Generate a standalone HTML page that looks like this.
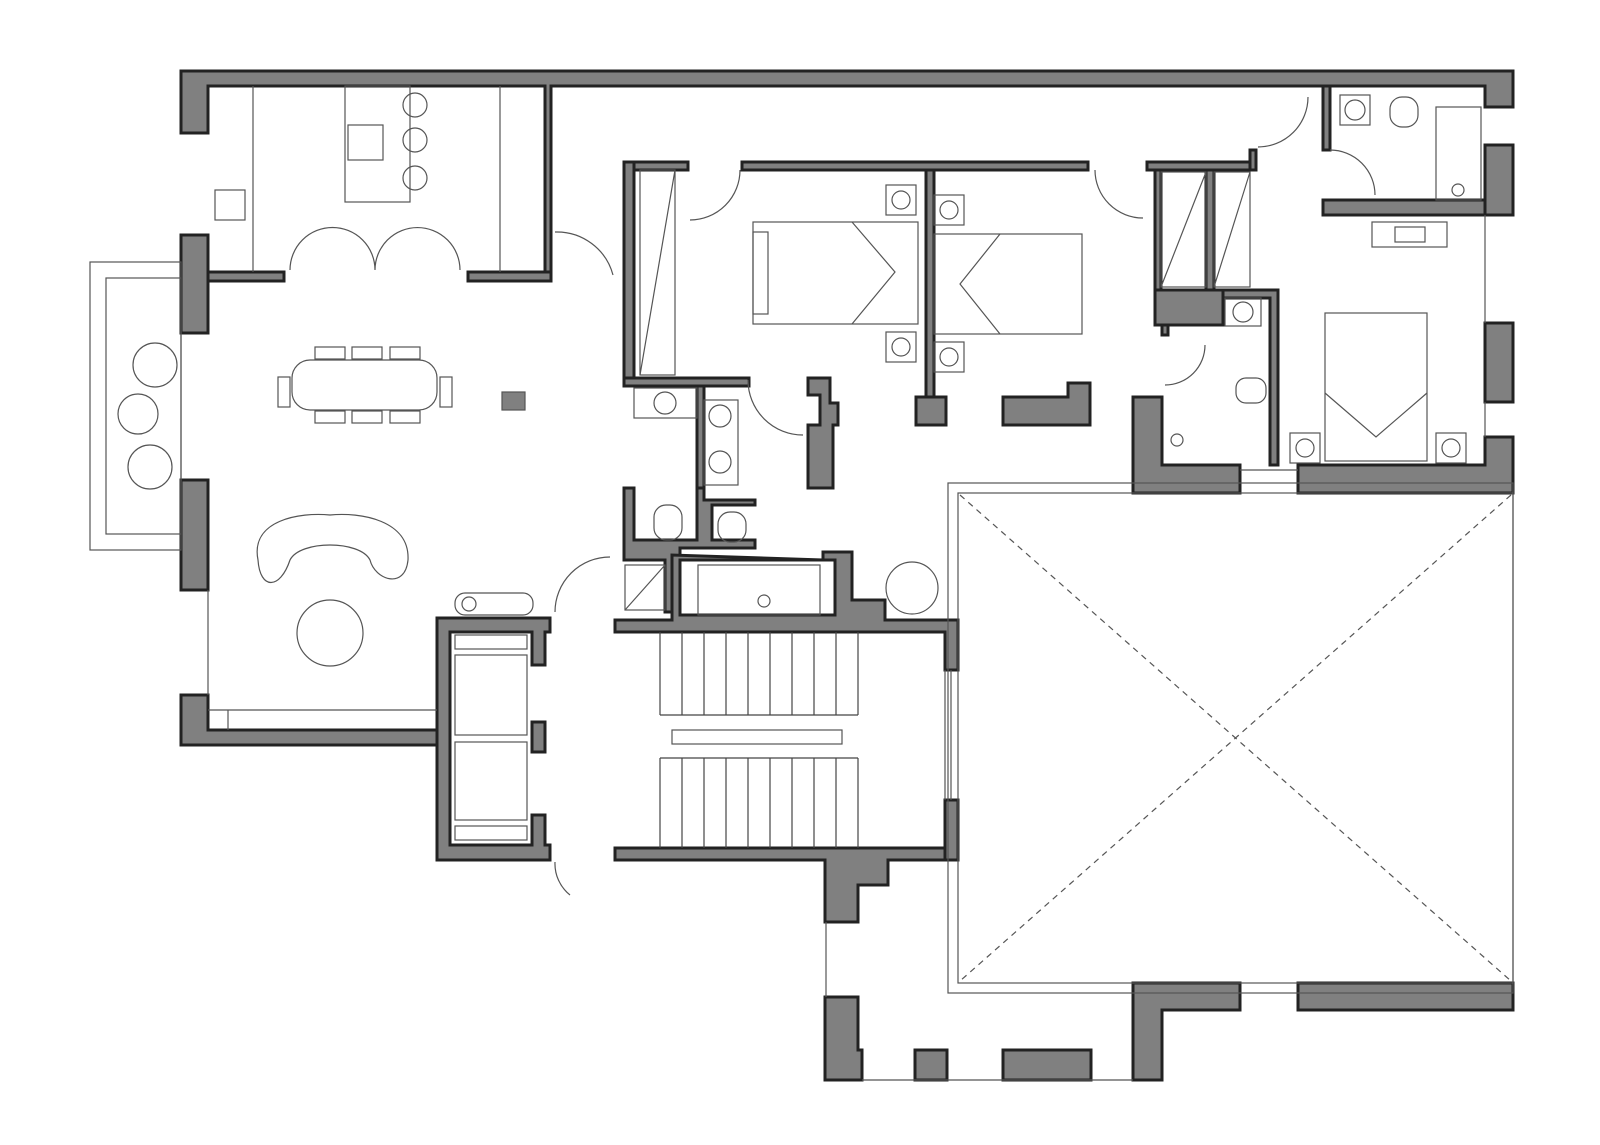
<!DOCTYPE html>
<html><head><meta charset="utf-8"><style>html,body{margin:0;padding:0;background:#fff}svg{display:block}</style></head>
<body>
<svg width="1600" height="1145" viewBox="0 0 1600 1145" xmlns="http://www.w3.org/2000/svg">
<g fill="#808080" stroke="#222" stroke-width="3" stroke-linejoin="miter">
<polygon points="181,71 1513,71 1513,107 1485,107 1485,86 551,86 551,275 545,275 545,86 208,86 208,133 181,133"/>
<rect x="181" y="235" width="27" height="98"/>
<rect x="181" y="480" width="27" height="110"/>
<polygon points="181,695 208,695 208,730 437,730 437,745 181,745"/>
<rect x="208" y="272" width="76" height="9"/>
<rect x="468" y="272" width="83" height="9"/>
<rect x="1485" y="145" width="28" height="70"/>
<rect x="1485" y="323" width="28" height="79"/>
<polygon points="1485,437 1513,437 1513,493 1298,493 1298,465 1485,465"/>
<polygon points="1133,397 1162,397 1162,465 1240,465 1240,493 1133,493"/>
<rect x="742" y="162" width="346" height="8"/>
<rect x="1147" y="162" width="108" height="8"/>
<rect x="624" y="162" width="64" height="8"/>
<rect x="624" y="162" width="10" height="220"/>
<rect x="1250" y="150" width="6" height="20"/>
<rect x="926" y="170" width="8" height="230"/>
<rect x="916" y="397" width="30" height="28"/>
<polygon points="1003,397 1068,397 1068,383 1090,383 1090,425 1003,425"/>
<rect x="624" y="378" width="125" height="8"/>
<rect x="697" y="386" width="7" height="110"/>
<polygon points="808,378 830,378 830,403 838,403 838,425 833,425 833,488 808,488 808,425 820,425 820,395 808,395"/>
<polygon points="624,488 634,488 634,540 697,540 697,488 704,488 704,500 755,500 755,505 712,505 712,540 755,540 755,548 680,548 680,560 672,560 672,612 665,612 665,560 624,560"/>
<polygon points="672,555 672,620 615,620 615,632 945,632 945,670 958,670 958,620 885,620 885,600 852,600 852,552 823,552 823,560 835,560 835,615 680,615 680,560 823,560"/>
<rect x="1155" y="290" width="68" height="35"/>
<polygon points="1223,290 1278,290 1278,465 1270,465 1270,298 1223,298"/>
<rect x="1162" y="325" width="6" height="10"/>
<rect x="1206" y="170" width="8" height="120"/>
<rect x="1155" y="170" width="6" height="120"/>
<polygon points="1323,86 1330,86 1330,150 1323,150"/>
<polygon points="1323,200 1485,200 1485,215 1323,215"/>
<polygon points="437,618 550,618 550,632 545,632 545,665 532,665 532,632 450,632 450,845 532,845 532,815 545,815 545,845 550,845 550,860 437,860"/>
<rect x="532" y="722" width="13" height="30"/>
<polygon points="615,848 958,848 958,800 945,800 945,860 888,860 888,885 858,885 858,922 825,922 825,860 615,860"/>
<rect x="945" y="800" width="13" height="60"/>
<polygon points="1133,983 1240,983 1240,1010 1162,1010 1162,1080 1133,1080"/>
<rect x="1298" y="983" width="215" height="27"/>
<polygon points="825,997 858,997 858,1050 862,1050 862,1080 825,1080"/>
<rect x="915" y="1050" width="32" height="30"/>
<rect x="1003" y="1050" width="88" height="30"/>
</g>
<g fill="none" stroke="#555" stroke-width="1.2">
<rect x="90" y="262" width="91" height="288"/>
<rect x="106" y="278" width="75" height="256"/>
<rect x="948" y="483" width="565" height="510"/>
<rect x="958" y="493" width="555" height="490"/>
<line x1="960" y1="495" x2="1511" y2="981" stroke-dasharray="6,5"/>
<line x1="1511" y1="495" x2="960" y2="981" stroke-dasharray="6,5"/>
<line x1="862" y1="1080" x2="1133" y2="1080"/>
<line x1="826" y1="922" x2="826" y2="997"/>
<line x1="208" y1="590" x2="208" y2="695"/>
<line x1="208" y1="710" x2="437" y2="710"/>
<line x1="228" y1="710" x2="228" y2="730"/>
<line x1="253" y1="86" x2="253" y2="272"/>
<line x1="500" y1="86" x2="500" y2="272"/>
<rect x="345" y="86" width="65" height="116"/>
<rect x="215" y="190" width="30" height="30"/>
<rect x="348" y="125" width="35" height="35"/>
<circle cx="415" cy="105" r="12"/><circle cx="415" cy="140" r="12"/><circle cx="415" cy="178" r="12"/>
<path d="M290,270 A42,42 0 0 1 375,270 A42,42 0 0 1 460,270"/>
<rect x="292" y="360" width="145" height="50" rx="18"/>
<rect x="315" y="347" width="30" height="12"/><rect x="352" y="347" width="30" height="12"/><rect x="390" y="347" width="30" height="12"/>
<rect x="315" y="411" width="30" height="12"/><rect x="352" y="411" width="30" height="12"/><rect x="390" y="411" width="30" height="12"/>
<rect x="278" y="377" width="12" height="30"/><rect x="440" y="377" width="12" height="30"/>
<rect x="502" y="392" width="23" height="18" fill="#808080"/>
<path d="M258,560 C250,520 300,512 330,515 C360,512 410,520 408,560 C405,590 375,580 370,560 C360,540 300,540 290,560 C280,590 260,590 258,560Z"/>
<circle cx="330" cy="633" r="33"/>
<circle cx="138" cy="414" r="20"/>
<circle cx="155" cy="365" r="22"/><circle cx="150" cy="467" r="22"/>
<rect x="455" y="593" width="78" height="22" rx="10"/>
<circle cx="469" cy="604" r="7"/>
<rect x="455" y="635" width="72" height="14"/><rect x="455" y="655" width="72" height="80"/>
<rect x="455" y="742" width="72" height="78"/><rect x="455" y="826" width="72" height="14"/>
<rect x="672" y="730" width="170" height="14"/>
<g stroke="#444">
<line x1="660" y1="632" x2="660" y2="715"/><line x1="682" y1="632" x2="682" y2="715"/><line x1="704" y1="632" x2="704" y2="715"/><line x1="726" y1="632" x2="726" y2="715"/><line x1="748" y1="632" x2="748" y2="715"/><line x1="770" y1="632" x2="770" y2="715"/><line x1="792" y1="632" x2="792" y2="715"/><line x1="814" y1="632" x2="814" y2="715"/><line x1="836" y1="632" x2="836" y2="715"/><line x1="858" y1="632" x2="858" y2="715"/>
<line x1="660" y1="715" x2="858" y2="715"/><line x1="660" y1="758" x2="858" y2="758"/>
<line x1="660" y1="758" x2="660" y2="848"/><line x1="682" y1="758" x2="682" y2="848"/><line x1="704" y1="758" x2="704" y2="848"/><line x1="726" y1="758" x2="726" y2="848"/><line x1="748" y1="758" x2="748" y2="848"/><line x1="770" y1="758" x2="770" y2="848"/><line x1="792" y1="758" x2="792" y2="848"/><line x1="814" y1="758" x2="814" y2="848"/><line x1="836" y1="758" x2="836" y2="848"/><line x1="858" y1="758" x2="858" y2="848"/>
</g>
<line x1="945" y1="670" x2="945" y2="800"/><line x1="951" y1="670" x2="951" y2="800"/>
<circle cx="912" cy="588" r="26"/>
<rect x="698" y="565" width="122" height="50"/>
<circle cx="764" cy="601" r="6"/>
<rect x="654" y="505" width="28" height="35" rx="12"/>
<rect x="718" y="512" width="28" height="30" rx="12"/>
<rect x="634" y="388" width="63" height="30"/><circle cx="665" cy="403" r="11"/>
<rect x="704" y="400" width="34" height="85"/><circle cx="720" cy="416" r="11"/><circle cx="720" cy="462" r="11"/>
<rect x="625" y="565" width="40" height="45"/><line x1="625" y1="610" x2="665" y2="565"/>
<rect x="753" y="222" width="165" height="102"/>
<rect x="753" y="232" width="15" height="82"/>
<polyline points="852,222 895,272 852,324"/>
<rect x="886" y="185" width="30" height="30"/><circle cx="901" cy="200" r="9"/>
<rect x="886" y="332" width="30" height="30"/><circle cx="901" cy="347" r="9"/>
<rect x="934" y="195" width="30" height="30"/><circle cx="949" cy="210" r="9"/>
<rect x="934" y="342" width="30" height="30"/><circle cx="949" cy="357" r="9"/>
<rect x="934" y="234" width="148" height="100"/>
<polyline points="1000,234 960,284 1000,334"/>
<rect x="640" y="170" width="35" height="205"/><line x1="640" y1="375" x2="675" y2="170"/>
<rect x="1161" y="172" width="45" height="115"/><line x1="1161" y1="287" x2="1206" y2="172"/>
<rect x="1214" y="172" width="36" height="115"/><line x1="1214" y1="287" x2="1250" y2="172"/>
<circle cx="1355" cy="110" r="10"/><rect x="1340" y="95" width="30" height="30"/>
<rect x="1390" y="97" width="28" height="30" rx="12"/>
<rect x="1436" y="107" width="45" height="93"/><circle cx="1458" cy="190" r="6"/>
<rect x="1225" y="298" width="36" height="28"/><circle cx="1243" cy="312" r="10"/>
<rect x="1236" y="378" width="30" height="25" rx="10"/>
<circle cx="1177" cy="440" r="6"/>
<rect x="1325" y="313" width="102" height="148"/>
<polyline points="1325,393 1376,437 1427,393"/>
<rect x="1290" y="433" width="30" height="30"/><circle cx="1305" cy="448" r="9"/>
<rect x="1436" y="433" width="30" height="30"/><circle cx="1451" cy="448" r="9"/>
<rect x="1372" y="222" width="75" height="25"/><rect x="1395" y="227" width="30" height="15"/>
<line x1="1485" y1="215" x2="1485" y2="323"/><line x1="1485" y1="402" x2="1485" y2="437"/>
<line x1="1240" y1="470" x2="1298" y2="470"/>
<path d="M555,232 A58,58 0 0 1 613,275"/>
<path d="M690,220 A50,50 0 0 0 740,170"/>
<path d="M1095,170 A48,48 0 0 0 1143,218"/>
<path d="M1258,147 A50,50 0 0 0 1308,97"/>
<path d="M1330,150 A45,45 0 0 1 1375,195"/>
<path d="M1165,385 A40,40 0 0 0 1205,345"/>
<path d="M748,380 A55,55 0 0 0 803,435"/>
<path d="M555,612 A55,55 0 0 1 610,557"/>
<path d="M555,862 A40,40 0 0 0 570,895"/>
</g>
</svg>
</body></html>
